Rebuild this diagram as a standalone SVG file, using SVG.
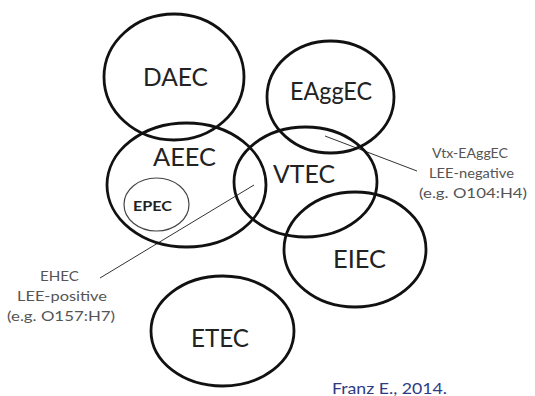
<svg xmlns="http://www.w3.org/2000/svg" width="535" height="396" viewBox="0 0 535 396">
<style>
.c{fill:none;stroke:#111;stroke-width:2.8}
.s{fill:none;stroke:#444;stroke-width:1.2}
.big{font-family:Lato,"Open Sans",sans-serif;font-size:25px;fill:#222;text-anchor:middle}
.sm{font-family:Lato,"Open Sans",sans-serif;font-size:14px;fill:#555;text-anchor:middle}
.ep{font-family:Lato,"Open Sans",sans-serif;font-size:13px;font-weight:bold;fill:#222;text-anchor:middle}
.ln{stroke:#333;stroke-width:1}
</style>
<rect width="535" height="396" fill="#fff"/>
<g id="connectors">
<line class="ln" x1="100" y1="278" x2="254" y2="185"/>
<line class="ln" x1="325" y1="136" x2="417" y2="171"/>
</g>
<g id="DAEC"><ellipse class="c" cx="174" cy="77" rx="70" ry="63"/><text class="big" x="175.5" y="86" textLength="65" lengthAdjust="spacingAndGlyphs">DAEC</text></g>
<g id="EAggEC"><ellipse class="c" cx="330.5" cy="97" rx="63.5" ry="56"/><text class="big" x="331" y="100" textLength="82" lengthAdjust="spacingAndGlyphs">EAggEC</text></g>
<g id="AEEC"><ellipse class="c" cx="186.5" cy="185" rx="79.5" ry="62"/><text class="big" x="184.5" y="166" textLength="63" lengthAdjust="spacingAndGlyphs">AEEC</text></g>
<g id="VTEC"><ellipse class="c" cx="305.5" cy="182" rx="71.5" ry="55"/><text class="big" x="304" y="183" textLength="62" lengthAdjust="spacingAndGlyphs">VTEC</text></g>
<g id="EIEC"><ellipse class="c" cx="355" cy="249.5" rx="71" ry="57.5"/><text class="big" x="359.5" y="268" textLength="53" lengthAdjust="spacingAndGlyphs">EIEC</text></g>
<g id="ETEC"><ellipse class="c" cx="222.5" cy="331" rx="71.5" ry="55"/><text class="big" x="220" y="347" textLength="58" lengthAdjust="spacingAndGlyphs">ETEC</text></g>
<g id="EPEC"><ellipse class="s" cx="156.5" cy="204.5" rx="32.5" ry="26.5"/><text class="ep" x="152.5" y="211" textLength="39" lengthAdjust="spacingAndGlyphs">EPEC</text></g>
<g id="EHEC-label">
<text class="sm" x="59.5" y="281" textLength="39" lengthAdjust="spacingAndGlyphs">EHEC</text>
<text class="sm" x="62" y="301" textLength="90" lengthAdjust="spacingAndGlyphs">LEE-positive</text>
<text class="sm" x="61" y="321" textLength="108" lengthAdjust="spacingAndGlyphs">(e.g. O157:H7)</text>
</g>
<g id="Vtx-label">
<text class="sm" x="470" y="158" textLength="76" lengthAdjust="spacingAndGlyphs">Vtx-EAggEC</text>
<text class="sm" x="471.5" y="178" textLength="85" lengthAdjust="spacingAndGlyphs">LEE-negative</text>
<text class="sm" x="473" y="198" textLength="108" lengthAdjust="spacingAndGlyphs">(e.g. O104:H4)</text>
</g>
<g id="credit"><text x="389.5" y="394" font-family="Lato,'Open Sans',sans-serif" font-size="16" fill="#2f3a85" text-anchor="middle" textLength="115" lengthAdjust="spacingAndGlyphs">Franz E., 2014.</text></g>
</svg>
